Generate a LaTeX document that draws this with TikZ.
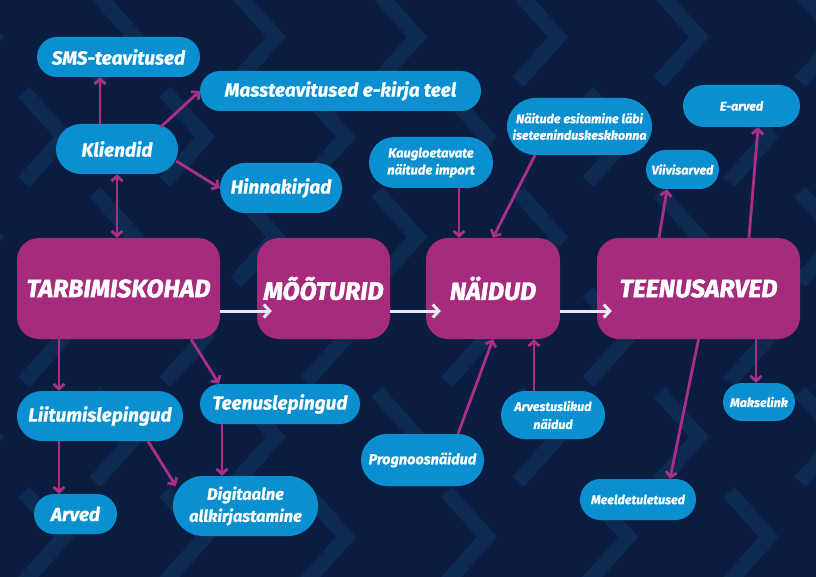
\documentclass[tikz,border=0pt]{standalone}
\usepackage{fontspec}
\setmainfont{Fira Sans}[BoldItalicFeatures={FakeBold=0.8}]
\newfontfamily\hubfont{Fira Sans}[BoldItalicFeatures={FakeBold=1.8}]
\usetikzlibrary{arrows.meta,shapes.misc}

\definecolor{bgnavy}{HTML}{0A1D40}
\definecolor{chevblue}{HTML}{0E2A51}
\definecolor{pillblue}{HTML}{0A90D0}
\definecolor{hubpink}{HTML}{A62B7D}
\definecolor{linkpink}{HTML}{AA2F85}
\definecolor{flowwhite}{HTML}{E4ECF7}

\tikzset{
  pill/.style={rounded rectangle, fill=pillblue, text=white, align=center, inner sep=0pt,
    font=\fontsize{19}{22}\selectfont\bfseries\itshape},
  smalltxt/.style={font=\fontsize{12.5}{16.5}\selectfont\bfseries\itshape},
  hub/.style={rectangle, rounded corners=22pt, fill=hubpink, text=white, inner sep=0pt,
    minimum height=101pt, font=\hubfont\fontsize{25}{28}\selectfont\bfseries\itshape},
  chevron/.style={draw=chevblue, line width=15pt, line join=miter},
  link/.style={draw=linkpink, line width=2.8pt, >={Straight Barb[length=5pt,width=11pt]}},
  flow/.style={draw=flowwhite, line width=3pt, >={Straight Barb[length=6pt,width=13pt]}, ->},
}

\begin{document}
\begin{tikzpicture}[x=1pt, y=1pt]
            \fill[bgnavy] (0,0) rectangle (816,-577);
            \useasboundingbox (0,0) rectangle (816,-577);

            % background chevrons
            \begin{scope}
              \clip (0,0) rectangle (816,-577);
              \foreach \r in {0,...,5} {
                \pgfmathsetmacro\off{mod(\r,2)*70}
                \foreach \c in {-1,...,5}
                  \draw[chevron] (95+\off+141*\c, -37-100*\r+45) -- ++(40,-45) -- ++(-40,-45);
              }
            \end{scope}

            % main flow
            \node[hub, minimum width=203pt] (Tk) at (118.5,-288.5) {TARBIMISKOHAD};
            \node[hub, minimum width=133pt] (Mo) at (323.5,-288.5) {MÕÕTURID};
            \node[hub, minimum width=134pt] (Na) at (493,-288.5) {NÄIDUD};
            \node[hub, minimum width=203pt] (Te) at (698.5,-288.5) {TEENUSARVED};

            % upper left
            \node[pill, minimum width=163pt, minimum height=40pt] (Sm) at (118.5,-57) {SMS-teavitused};
            \node[pill, minimum width=281pt, minimum height=40pt] (Ma) at (340.5,-91) {Massteavitused e-kirja teel};
            \node[pill, minimum width=122pt, minimum height=50pt] (Kl) at (117,-149) {Kliendid};
            \node[pill, minimum width=122pt, minimum height=50pt] (Hi) at (281,-188) {Hinnakirjad};

            % upper right
            \node[pill, smalltxt, font=\fontsize{13}{17}\selectfont\bfseries\itshape, minimum width=124pt, minimum height=51pt] (Ka) at (431,-162.5) {Kaugloetavate\\näitude import};
            \node[pill, smalltxt, minimum width=145pt, minimum height=57pt] (Ne) at (579.5,-126.5) {Näitude esitamine läbi\\iseteeninduskeskkonna};
            \node[pill, smalltxt, minimum width=73pt, minimum height=39pt] (Vi) at (682.5,-169.5) {Viivisarved};
            \node[pill, smalltxt, minimum width=117pt, minimum height=42pt] (Ea) at (741.5,-106) {E-arved};

            % lower left
            \node[pill, minimum width=166pt, minimum height=50pt] (Li) at (100,-416) {Liitumislepingud};
            \node[pill, minimum width=160pt, minimum height=40pt] (Tl) at (280,-404) {Teenuslepingud};
            \node[pill, minimum width=83pt, minimum height=40pt] (Ar) at (75.5,-514) {Arved};
            \node[pill, font=\fontsize{16.5}{22}\selectfont\bfseries\itshape, minimum width=145pt, minimum height=60pt] (Di) at (245.5,-506) {Digitaalne\\allkirjastamine};

            % lower right
            \node[pill, font=\fontsize{14.5}{18}\selectfont\bfseries\itshape, minimum width=123pt, minimum height=52pt] (Pr) at (422.5,-460) {Prognoosnäidud};
            \node[pill, smalltxt, font=\fontsize{12.5}{18}\selectfont\bfseries\itshape, minimum width=104pt, minimum height=48pt] (Av) at (553,-415) {Arvestuslikud\\näidud};
            \node[pill, smalltxt, minimum width=116pt, minimum height=41pt] (Me) at (638,-499.5) {Meeldetuletused};
            \node[pill, smalltxt, minimum width=72pt, minimum height=38pt] (Mk) at (759,-402) {Makselink};

            \draw[link, ->] ([xshift=-17pt]Kl.north) -- ([xshift=-18.5pt]Sm.south);
            \draw[link, ->] ([xshift=44pt,yshift=-3pt]Kl.north) -- (Ma.west);
            \draw[link, ->] ([xshift=-2pt,yshift=-12pt]Kl.east) -- (Hi.west);
            \draw[link, <->] (Kl.south) -- (Kl.south |- Tk.north);

            \draw[link, ->] ([xshift=-59.5pt]Tk.south) -- ([xshift=-41pt]Li.north);
            \draw[link, ->] ([xshift=72.5pt]Tk.south) -- ([xshift=-61pt]Tl.north);
            \draw[link, ->] ([xshift=-41pt]Li.south) -- ([xshift=-16.5pt]Ar.north);
            \draw[link, ->] ([xshift=48pt]Li.south) -- ([xshift=3pt,yshift=20pt]Di.west);
            \draw[link, ->] ([xshift=-58pt]Tl.south) -- ([xshift=-23.5pt]Di.north);

            \draw[link, ->] ([xshift=28pt]Ka.south) -- ([xshift=-34pt]Na.north);
            \draw[link, ->] ([xshift=-44.5pt]Ne.south) -- (Na.north);
            \draw[link, ->] ([xshift=35.5pt]Pr.north) -- (Na.south);
            \draw[link, ->] ([xshift=-19pt]Av.north) -- ([xshift=41pt]Na.south);

            \draw[link, ->] ([xshift=-39.5pt]Te.north) -- ([xshift=-15.5pt]Vi.south);
            \draw[link, ->] ([xshift=50.5pt]Te.north) -- ([xshift=16.5pt]Ea.south);
            \draw[link, ->] (Te.south) -- ([xshift=32pt]Me.north);
            \draw[link, ->] ([xshift=57.5pt]Te.south) -- ([xshift=-3pt]Mk.north);

            \draw[flow] ([yshift=-22.5pt]Tk.east) -- ([xshift=15pt,yshift=-22.5pt]Mo.west);
            \draw[flow] ([yshift=-22.5pt]Mo.east) -- ([xshift=15pt,yshift=-22.5pt]Na.west);
            \draw[flow] ([yshift=-22.5pt]Na.east) -- ([xshift=15pt,yshift=-22.5pt]Te.west);
\end{tikzpicture}
\end{document}
